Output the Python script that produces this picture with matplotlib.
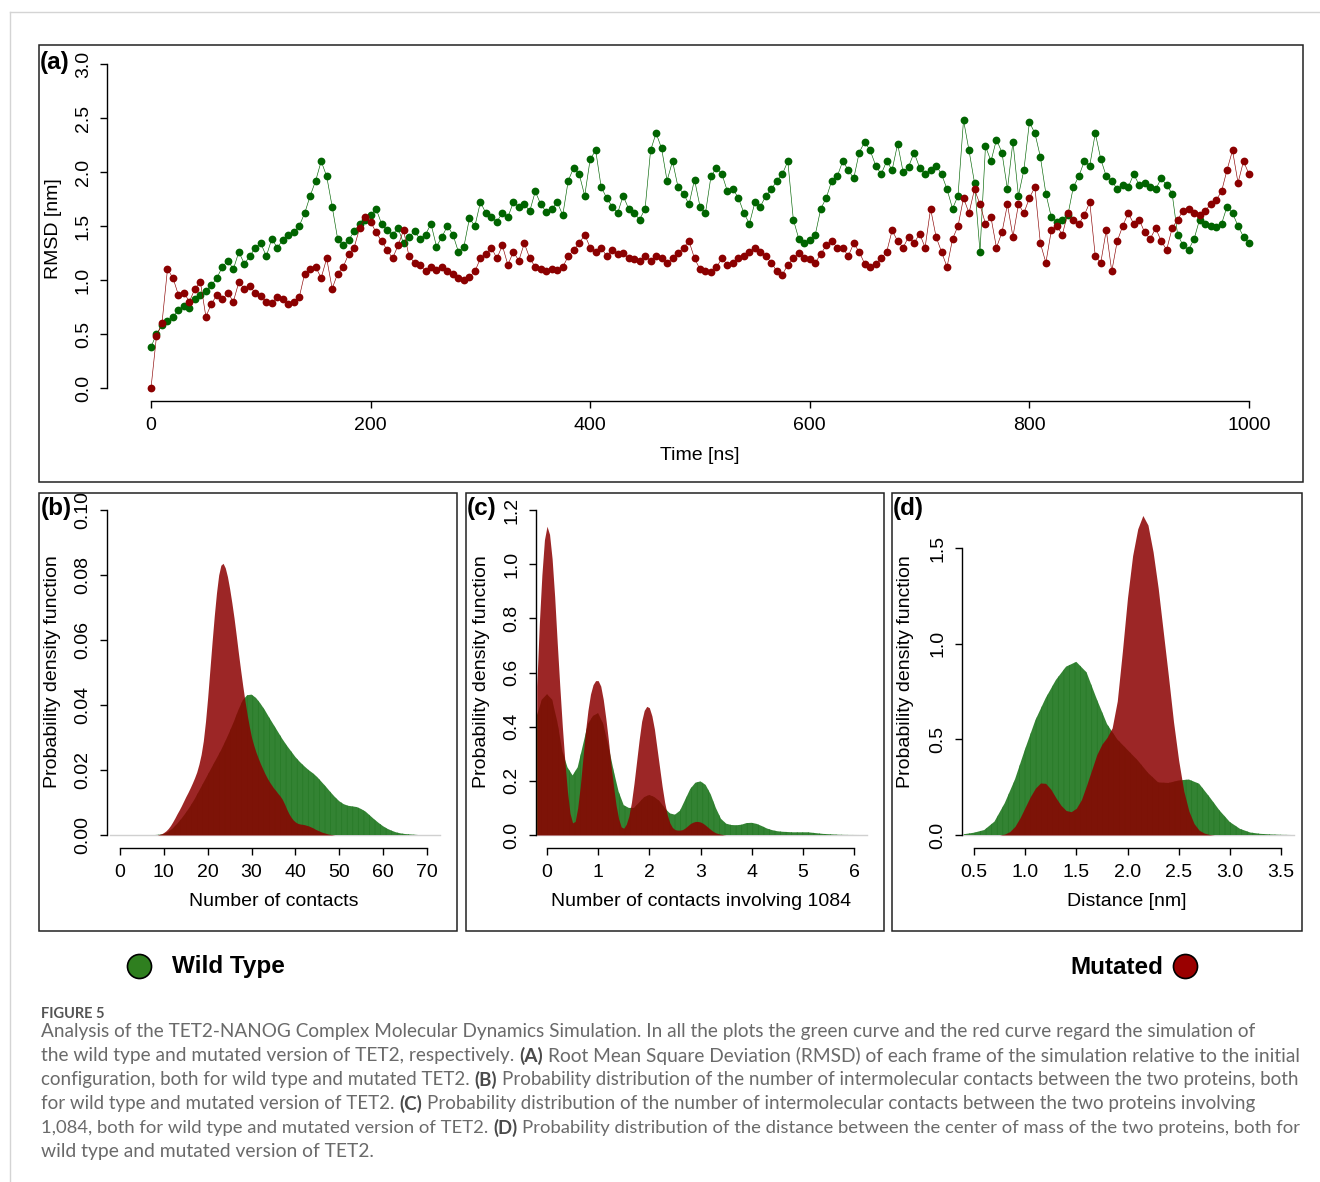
import numpy as np
import matplotlib
matplotlib.use('Agg')
import matplotlib.pyplot as plt
from matplotlib.patches import Rectangle

# ---------------- data ----------------
time_ns = np.arange(0, 1001, 5)

rmsd_wild = [
    0.38, 0.50, 0.58, 0.62, 0.66, 0.72, 0.76, 0.74, 0.82, 0.86,
    0.90, 0.95, 1.02, 1.12, 1.18, 1.10, 1.26, 1.15, 1.22, 1.30,
    1.34, 1.22, 1.38, 1.30, 1.37, 1.42, 1.44, 1.50, 1.62, 1.78,
    1.92, 2.10, 1.96, 1.68, 1.38, 1.32, 1.37, 1.45, 1.52, 1.56,
    1.60, 1.66, 1.52, 1.46, 1.42, 1.48, 1.34, 1.40, 1.45, 1.38,
    1.42, 1.52, 1.31, 1.40, 1.50, 1.42, 1.26, 1.31, 1.57, 1.50,
    1.72, 1.62, 1.58, 1.54, 1.62, 1.58, 1.72, 1.68, 1.70, 1.64,
    1.82, 1.70, 1.63, 1.66, 1.72, 1.60, 1.92, 2.04, 1.98, 1.78,
    2.12, 2.20, 1.86, 1.76, 1.68, 1.62, 1.78, 1.66, 1.62, 1.56,
    1.66, 2.20, 2.36, 2.22, 1.92, 2.10, 1.86, 1.80, 1.70, 1.93,
    1.68, 1.62, 1.96, 2.04, 1.98, 1.82, 1.84, 1.76, 1.62, 1.52,
    1.72, 1.68, 1.78, 1.84, 1.92, 1.98, 2.10, 1.56, 1.38, 1.34,
    1.37, 1.42, 1.66, 1.76, 1.92, 1.96, 2.10, 2.02, 1.94, 2.18,
    2.28, 2.20, 2.06, 1.98, 2.10, 2.02, 2.26, 2.00, 2.05, 2.18,
    2.04, 1.98, 2.02, 2.06, 1.98, 1.84, 1.66, 1.78, 2.48, 2.20,
    1.90, 1.26, 2.24, 2.10, 2.30, 2.18, 1.84, 2.28, 1.78, 2.02,
    2.46, 2.36, 2.14, 1.80, 1.58, 1.54, 1.56, 1.60, 1.86, 1.96,
    2.10, 2.06, 2.36, 2.12, 1.96, 1.92, 1.84, 1.88, 1.86, 1.98,
    1.88, 1.90, 1.86, 1.84, 1.94, 1.88, 1.80, 1.42, 1.32, 1.28,
    1.38, 1.56, 1.52, 1.50, 1.49, 1.52, 1.68, 1.62, 1.50, 1.40,
    1.34]

rmsd_mut = [
    0.00, 0.48, 0.60, 1.10, 1.02, 0.86, 0.88, 0.80, 0.92, 0.98,
    0.66, 0.78, 0.86, 0.82, 0.88, 0.80, 0.98, 0.92, 0.94, 0.88,
    0.85, 0.80, 0.79, 0.84, 0.82, 0.78, 0.80, 0.84, 1.06, 1.10,
    1.12, 1.02, 1.20, 0.92, 1.06, 1.12, 1.24, 1.30, 1.48, 1.58,
    1.54, 1.44, 1.36, 1.28, 1.20, 1.32, 1.46, 1.22, 1.16, 1.14,
    1.08, 1.12, 1.09, 1.12, 1.08, 1.06, 1.02, 1.00, 1.03, 1.08,
    1.20, 1.24, 1.30, 1.20, 1.32, 1.14, 1.26, 1.18, 1.34, 1.20,
    1.12, 1.10, 1.08, 1.10, 1.09, 1.12, 1.22, 1.28, 1.34, 1.42,
    1.30, 1.26, 1.30, 1.22, 1.28, 1.24, 1.25, 1.20, 1.19, 1.18,
    1.22, 1.18, 1.22, 1.20, 1.16, 1.20, 1.25, 1.30, 1.36, 1.20,
    1.10, 1.08, 1.07, 1.12, 1.20, 1.14, 1.16, 1.20, 1.22, 1.26,
    1.30, 1.26, 1.22, 1.16, 1.08, 1.05, 1.14, 1.20, 1.25, 1.20,
    1.19, 1.16, 1.24, 1.32, 1.36, 1.30, 1.30, 1.22, 1.34, 1.26,
    1.15, 1.12, 1.15, 1.20, 1.26, 1.46, 1.36, 1.30, 1.40, 1.34,
    1.43, 1.30, 1.66, 1.40, 1.26, 1.12, 1.38, 1.50, 1.76, 1.62,
    1.84, 1.70, 1.52, 1.58, 1.30, 1.44, 1.70, 1.40, 1.70, 1.62,
    1.76, 1.86, 1.34, 1.16, 1.46, 1.50, 1.42, 1.62, 1.56, 1.52,
    1.60, 1.72, 1.22, 1.16, 1.46, 1.08, 1.36, 1.50, 1.62, 1.52,
    1.56, 1.44, 1.38, 1.48, 1.36, 1.28, 1.48, 1.56, 1.64, 1.66,
    1.62, 1.60, 1.64, 1.70, 1.74, 1.82, 2.02, 2.20, 1.90, 2.10,
    1.98]

# (b) number of contacts
contacts_x_wild = np.arange(8, 74)
contacts_wild = [
    0.0000, 0.0001, 0.0003, 0.0010, 0.0020, 0.0034, 0.0050, 0.0068, 0.0088, 0.0110,
    0.0135, 0.0160, 0.0185, 0.0210, 0.0235, 0.0260, 0.0288, 0.0318, 0.0350, 0.0385,
    0.0415, 0.0430, 0.0432, 0.0422, 0.0405, 0.0385, 0.0362, 0.0340, 0.0318, 0.0296,
    0.0276, 0.0258, 0.0240, 0.0225, 0.0212, 0.0200, 0.0190, 0.0178, 0.0163, 0.0148,
    0.0132, 0.0117, 0.0104, 0.0095, 0.0090, 0.0088, 0.0086, 0.0080, 0.0072, 0.0060,
    0.0048, 0.0037, 0.0027, 0.0019, 0.0013, 0.0008, 0.0005, 0.0003, 0.0002, 0.0001,
    0.0000, 0.0000, 0.0000, 0.0000, 0.0000, 0.0000]
contacts_x_mut = np.arange(8, 50, 0.5)
contacts_mut = [
    0.0000, 0.0000, 0.0002, 0.0004, 0.0008, 0.0013, 0.0020, 0.0029, 0.0040, 0.0052,
    0.0065, 0.0077, 0.0090, 0.0104, 0.0118, 0.0131, 0.0145, 0.0160, 0.0176, 0.0194,
    0.0218, 0.0248, 0.0290, 0.0350, 0.0425, 0.0510, 0.0595, 0.0675, 0.0745, 0.0800,
    0.0830, 0.0836, 0.0822, 0.0795, 0.0758, 0.0715, 0.0668, 0.0615, 0.0560, 0.0508,
    0.0458, 0.0412, 0.0370, 0.0333, 0.0300, 0.0276, 0.0255, 0.0237, 0.0220, 0.0205,
    0.0190, 0.0177, 0.0165, 0.0155, 0.0145, 0.0137, 0.0128, 0.0120, 0.0110, 0.0096,
    0.0080, 0.0066, 0.0055, 0.0046, 0.0040, 0.0036, 0.0034, 0.0033, 0.0032, 0.0030,
    0.0028, 0.0025, 0.0022, 0.0018, 0.0015, 0.0012, 0.0009, 0.0007, 0.0005, 0.0003,
    0.0002, 0.0001, 0.0000, 0.0000]

# (c) contacts involving 1084
c1084_x_wild = np.round(np.arange(-0.2, 6.31, 0.1), 2)
c1084_wild = [
    0.44, 0.50, 0.52, 0.50, 0.42, 0.31, 0.25, 0.22, 0.25, 0.33,
    0.41, 0.44, 0.45, 0.41, 0.33, 0.24, 0.16, 0.11, 0.10, 0.10,
    0.12, 0.14, 0.148, 0.14, 0.125, 0.10, 0.08, 0.075, 0.09, 0.13,
    0.17, 0.193, 0.198, 0.185, 0.15, 0.10, 0.06, 0.042, 0.037, 0.036,
    0.038, 0.044, 0.045, 0.041, 0.033, 0.024, 0.018, 0.014, 0.012, 0.011,
    0.010, 0.010, 0.010, 0.010, 0.008, 0.006, 0.004, 0.003, 0.002, 0.001,
    0.0005, 0.0002, 0.0001, 0.0, 0.0, 0.0]
c1084_x_mut = np.round(np.arange(-0.2, 3.51, 0.05), 2)
c1084_mut = [
    0.55, 0.78, 0.96, 1.09, 1.14, 1.11, 1.02, 0.88, 0.71, 0.55,
    0.40, 0.27, 0.16, 0.08, 0.045, 0.05, 0.10, 0.18, 0.28, 0.38,
    0.46, 0.52, 0.555, 0.57, 0.57, 0.55, 0.50, 0.43, 0.35, 0.26,
    0.18, 0.11, 0.06, 0.03, 0.025, 0.04, 0.07, 0.12, 0.19, 0.27,
    0.35, 0.42, 0.46, 0.475, 0.47, 0.44, 0.39, 0.32, 0.25, 0.18,
    0.12, 0.075, 0.045, 0.028, 0.02, 0.018, 0.018, 0.02, 0.026, 0.034,
    0.042, 0.047, 0.05, 0.05, 0.048, 0.043, 0.036, 0.028, 0.02, 0.013,
    0.008, 0.005, 0.003, 0.001, 0.0]

# (d) distance between centres of mass
dist_x_wild = np.round(np.arange(0.4, 3.61, 0.1), 2)
dist_wild = [
    0.004, 0.012, 0.026, 0.070, 0.166, 0.290, 0.450, 0.600, 0.715, 0.810,
    0.880, 0.905, 0.850, 0.710, 0.580, 0.500, 0.445, 0.390, 0.325, 0.275,
    0.272, 0.285, 0.290, 0.268, 0.200, 0.128, 0.068, 0.032, 0.013, 0.006,
    0.003, 0.001, 0.000]
dist_x_mut = np.round(np.arange(0.75, 2.86, 0.05), 2)
dist_mut = [
    0.000, 0.005, 0.018, 0.045, 0.090, 0.145, 0.200, 0.245, 0.272, 0.270,
    0.240, 0.195, 0.155, 0.128, 0.122, 0.140, 0.185, 0.260, 0.340, 0.420,
    0.475, 0.510, 0.560, 0.700, 0.960, 1.240, 1.460, 1.600, 1.670, 1.620,
    1.480, 1.290, 1.060, 0.830, 0.590, 0.390, 0.230, 0.125, 0.060, 0.025,
    0.010, 0.003, 0.000]

caption_lines = [
    [("Analysis of the TET2-NANOG Complex Molecular Dynamics Simulation. In all the plots the green curve and the red curve regard the simulation of", False)],
    [("the wild type and mutated version of TET2, respectively.", False), ("(A)", True),
     ("Root Mean Square Deviation (RMSD) of each frame of the simulation relative to the initial", False)],
    [("configuration, both for wild type and mutated TET2.", False), ("(B)", True),
     ("Probability distribution of the number of intermolecular contacts between the two proteins, both", False)],
    [("for wild type and mutated version of TET2.", False), ("(C)", True),
     ("Probability distribution of the number of intermolecular contacts between the two proteins involving", False)],
    [("1,084, both for wild type and mutated version of TET2.", False), ("(D)", True),
     ("Probability distribution of the distance between the center of mass of the two proteins, both for", False)],
    [("wild type and mutated version of TET2.", False)],
]
caption_ends = [1258, 1300, 1300, 1258, 1300, 375]

# ---------------- styling ----------------
plt.rcParams['font.family'] = ['Liberation Sans', 'DejaVu Sans']
plt.rcParams['hatch.linewidth'] = 0.5

GREEN = '#006400'
RED = '#8b0000'
GREEN_FILL = '#338333'
RED_FILL = (139 / 255, 0, 0, 0.85)

W, H = 1320, 1182
fig = plt.figure(figsize=(W / 100, H / 100), dpi=100)
bg = fig.add_axes([0, 0, 1, 1], zorder=-1)
bg.set_xlim(0, W)
bg.set_ylim(H, 0)
bg.axis('off')


def place(xa, pxa, xb, pxb, ya, pya, yb, pyb, xlim, ylim):
    sx = (pxb - pxa) / (xb - xa)
    sy = (pyb - pya) / (yb - ya)
    l = pxa + (xlim[0] - xa) * sx
    r = pxa + (xlim[1] - xa) * sx
    b = pya + (ylim[0] - ya) * sy
    t = pya + (ylim[1] - ya) * sy
    ax = fig.add_axes([l / W, 1 - b / H, (r - l) / W, (b - t) / H])
    ax.set_xlim(xlim)
    ax.set_ylim(ylim)
    ax.patch.set_visible(False)
    return ax


def r_axes(ax, xticks, yticks, ylabels):
    ax.spines['top'].set_visible(False)
    ax.spines['right'].set_visible(False)
    ax.spines['left'].set_bounds(yticks[0], yticks[-1])
    ax.spines['bottom'].set_bounds(xticks[0], xticks[-1])
    for s in ('left', 'bottom'):
        ax.spines[s].set_linewidth(1.0)
    ax.set_xticks(xticks)
    ax.set_yticks(yticks, ylabels, rotation=90, va='center')
    ax.tick_params(direction='out', length=5, width=1.0, labelsize=14)
    ax.tick_params(axis='x', pad=6.5)
    ax.tick_params(axis='y', pad=6)


def density(ax, xw, yw, xm, ym, base):
    ax.plot(base, [0, 0], color='#d0d0d0', lw=1.0, zorder=1)
    ax.fill_between(xw, 0, yw, facecolor=GREEN_FILL, edgecolor='#267a26',
                    hatch='|||', linewidth=0, zorder=2)
    ax.fill_between(xm, 0, ym, color=RED_FILL, linewidth=0, zorder=3)


# panel frames
for (x0, y0, x1, y1) in [(39, 45, 1303, 482), (39, 493, 457, 931),
                         (466, 493, 884, 931), (892, 493, 1302, 931)]:
    bg.add_patch(Rectangle((x0, y0), x1 - x0, y1 - y0, fill=False,
                           edgecolor='#222222', lw=1.1))

# page rules
bg.plot([10, 1320], [12, 12], color='#d4d4d4', lw=1.0)
bg.plot([10, 10], [12, 1182], color='#d4d4d4', lw=1.0)

# (a) RMSD
ax_a = place(0, 151, 1000, 1249, 0, 388, 3, 64, (-40, 1040), (-0.12, 3.12))
ax_a.plot(time_ns, rmsd_wild, color=GREEN, lw=0.45, marker='o', ms=5.6, mew=0)
ax_a.plot(time_ns, rmsd_mut, color=RED, lw=0.45, marker='o', ms=5.6, mew=0)
r_axes(ax_a, [0, 200, 400, 600, 800, 1000], [0, 0.5, 1.0, 1.5, 2.0, 2.5, 3.0],
       ['0.0', '0.5', '1.0', '1.5', '2.0', '2.5', '3.0'])

# (b)
ax_b = place(0, 120, 70, 427, 0, 835, 0.1, 510, (-3, 73.6), (-0.004, 0.104))
density(ax_b, contacts_x_wild, contacts_wild, contacts_x_mut, contacts_mut, [-2.3, 73])
r_axes(ax_b, list(range(0, 71, 10)), [0, 0.02, 0.04, 0.06, 0.08, 0.10],
       ['0.00', '0.02', '0.04', '0.06', '0.08', '0.10'])

# (c)
ax_c = place(0, 547, 6, 854, 0, 835, 1.2, 510, (-0.22, 6.32), (-0.048, 1.248))
density(ax_c, c1084_x_wild, c1084_wild, c1084_x_mut, c1084_mut, [-0.21, 6.25])
r_axes(ax_c, list(range(0, 7)), [0, 0.2, 0.4, 0.6, 0.8, 1.0, 1.2],
       ['0.0', '0.2', '0.4', '0.6', '0.8', '1.0', '1.2'])

# (d)
ax_d = place(0.5, 974, 3.5, 1281, 0, 835, 1.5, 548, (0.38, 3.65), (-0.068, 1.768))
density(ax_d, dist_x_wild, dist_wild, dist_x_mut, dist_mut, [0.38, 3.63])
r_axes(ax_d, [0.5, 1.0, 1.5, 2.0, 2.5, 3.0, 3.5], [0, 0.5, 1.0, 1.5],
       ['0.0', '0.5', '1.0', '1.5'])
ax_d.set_xticklabels(['0.5', '1.0', '1.5', '2.0', '2.5', '3.0', '3.5'])

# axis titles and panel letters
lab = dict(fontsize=14, ha='center', va='center')
bg.text(53, 229, 'RMSD [nm]', rotation=90, **lab)
bg.text(700, 456, 'Time [ns]', **lab)
for xc, xl, xlab in [(53, 274, 'Number of contacts'),
                     (481, 701, 'Number of contacts involving 1084'),
                     (906, 1127, 'Distance [nm]')]:
    bg.text(xc, 672, 'Probability density function', rotation=90, **lab)
    bg.text(xl, 902, xlab, **lab)

for x, y, s in [(40, 63, '(a)'), (41, 508, '(b)'), (467, 508, '(c)'), (893, 508, '(d)')]:
    bg.text(x, y, s, fontsize=17.5, fontweight='bold', ha='left', va='center')

# legend
bg.scatter([139], [966], s=300, c='#2f7f1f', edgecolors='black', linewidths=1.2, zorder=3)
bg.text(172, 967, 'Wild Type', fontsize=17.5, fontweight='bold', ha='left', va='center')
bg.scatter([1185], [966], s=300, c='#9a0000', edgecolors='black', linewidths=1.2, zorder=3)
bg.text(1163, 967, 'Mutated', fontsize=17.5, fontweight='bold', ha='right', va='center')

# caption
CAP = ['Lato', 'DejaVu Sans']
renderer = fig.canvas.get_renderer()


def text_width(s, size, bold):
    t = bg.text(0, 0, s, fontsize=size, fontweight='bold' if bold else 'normal', family=CAP)
    w = t.get_window_extent(renderer).width
    t.remove()
    return w


bg.text(41, 1014, 'FIGURE 5', fontsize=10.5, family=CAP, color='#555555',
        ha='left', va='center', fontweight='bold')

for i, parts in enumerate(caption_lines):
    y = 1032 + 24 * i
    s0 = 10
    gap0 = text_width('a a', s0, False) - text_width('aa', s0, False)
    total = sum(text_width(s, s0, b) for s, b in parts) + gap0 * (len(parts) - 1)
    size = s0 * (caption_ends[i] - 41) / total
    gap = gap0 * size / s0
    x = 41
    for s, b in parts:
        t = bg.text(x, y, s, fontsize=size, family=CAP, ha='left', va='center',
                    fontweight='bold' if b else 'normal',
                    color='#4a4a4a' if b else '#6a6a6a')
        x += t.get_window_extent(renderer).width + gap

fig.savefig('out.png', dpi=100)
